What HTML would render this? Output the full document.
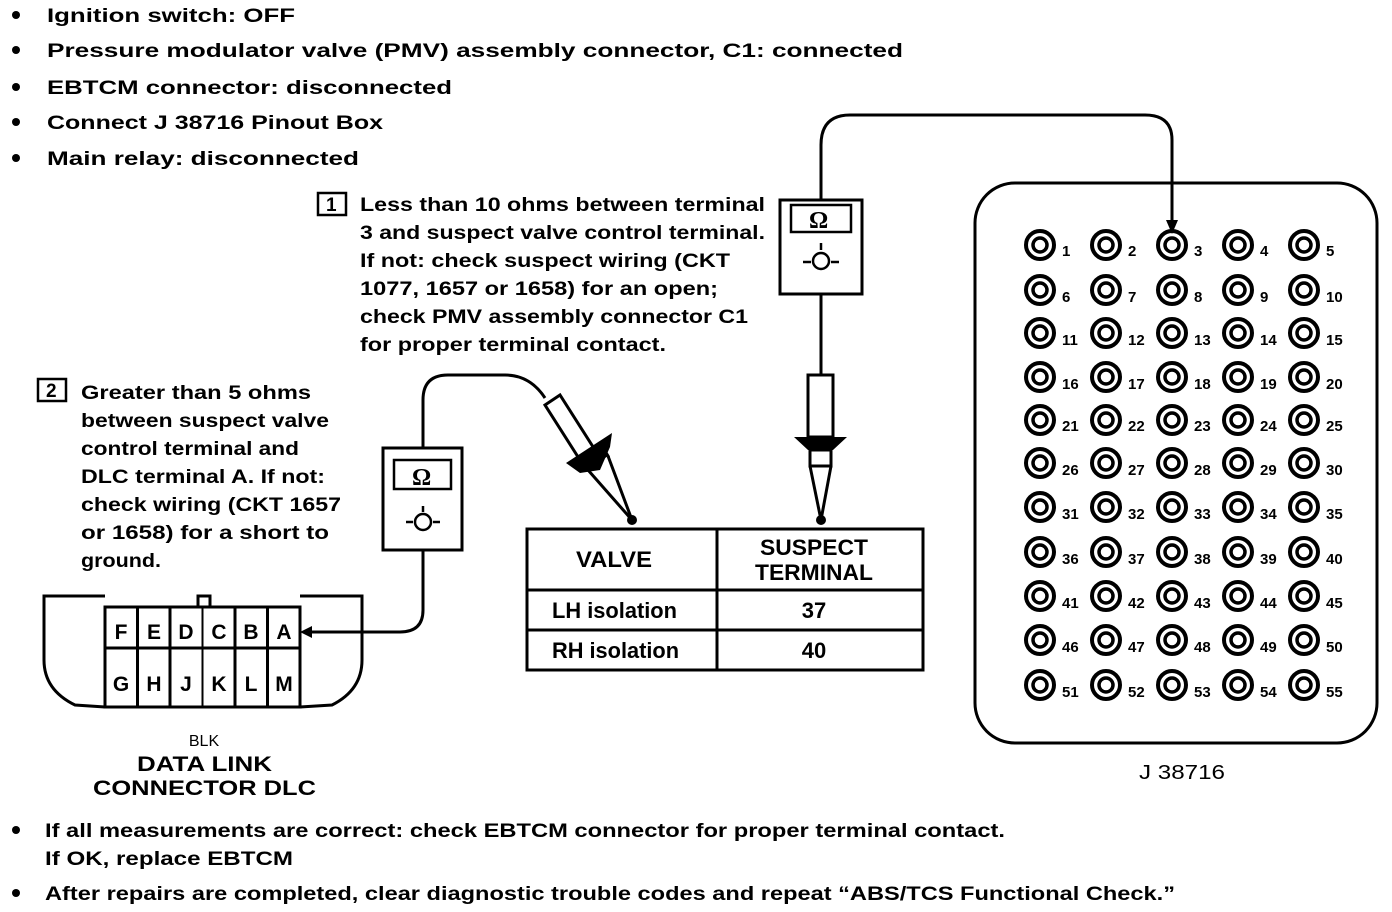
<!DOCTYPE html>
<html><head><meta charset="utf-8"><style>
html,body{margin:0;padding:0;background:#fff;}
svg{display:block;}
text{font-family:"Liberation Sans",sans-serif;font-weight:bold;fill:#000;}
.t{font-size:19px;}
.n{font-size:15px;}
.tb{font-size:22px;font-weight:normal;}
</style></head><body>
<svg width="1392" height="912" viewBox="0 0 1392 912" xmlns="http://www.w3.org/2000/svg">
<defs>
<g id="j"><circle r="14" fill="none" stroke="#000" stroke-width="4"/><circle r="7" fill="none" stroke="#000" stroke-width="3.5"/></g>
</defs>
<!-- top bullets -->
<g class="t">
<circle cx="16" cy="15" r="4"/><text x="47" y="22" textLength="248" lengthAdjust="spacingAndGlyphs">Ignition switch: OFF</text>
<circle cx="16" cy="50" r="4"/><text x="47" y="57" textLength="856" lengthAdjust="spacingAndGlyphs">Pressure modulator valve (PMV) assembly connector, C1: connected</text>
<circle cx="16" cy="87" r="4"/><text x="47" y="94" textLength="405" lengthAdjust="spacingAndGlyphs">EBTCM connector: disconnected</text>
<circle cx="16" cy="122" r="4"/><text x="47" y="129" textLength="336" lengthAdjust="spacingAndGlyphs">Connect J 38716 Pinout Box</text>
<circle cx="16" cy="158" r="4"/><text x="47" y="165" textLength="312" lengthAdjust="spacingAndGlyphs">Main relay: disconnected</text>
</g>
<!-- note 1 -->
<rect x="318" y="193" width="28" height="22" fill="none" stroke="#000" stroke-width="2.5"/>
<text class="t" x="326" y="211">1</text>
<g class="t">
<text x="360" y="211" textLength="405" lengthAdjust="spacingAndGlyphs">Less than 10 ohms between terminal</text>
<text x="360" y="239" textLength="405" lengthAdjust="spacingAndGlyphs">3 and suspect valve control terminal.</text>
<text x="360" y="267" textLength="370" lengthAdjust="spacingAndGlyphs">If not: check suspect wiring (CKT</text>
<text x="360" y="295" textLength="358" lengthAdjust="spacingAndGlyphs">1077, 1657 or 1658) for an open;</text>
<text x="360" y="323" textLength="388" lengthAdjust="spacingAndGlyphs">check PMV assembly connector C1</text>
<text x="360" y="351" textLength="306" lengthAdjust="spacingAndGlyphs">for proper terminal contact.</text>
</g>
<!-- note 2 -->
<rect x="38" y="379" width="28" height="22" fill="none" stroke="#000" stroke-width="2.5"/>
<text class="t" x="46" y="397">2</text>
<g class="t">
<text x="81" y="399" textLength="230" lengthAdjust="spacingAndGlyphs">Greater than 5 ohms</text>
<text x="81" y="427" textLength="248" lengthAdjust="spacingAndGlyphs">between suspect valve</text>
<text x="81" y="455" textLength="218" lengthAdjust="spacingAndGlyphs">control terminal and</text>
<text x="81" y="483" textLength="244" lengthAdjust="spacingAndGlyphs">DLC terminal A. If not:</text>
<text x="81" y="511" textLength="260" lengthAdjust="spacingAndGlyphs">check wiring (CKT 1657</text>
<text x="81" y="539" textLength="248" lengthAdjust="spacingAndGlyphs">or 1658) for a short to</text>
<text x="81" y="567" textLength="80" lengthAdjust="spacingAndGlyphs">ground.</text>
</g>
<!-- meter left -->
<rect x="383" y="448" width="79" height="102" fill="#fff" stroke="#000" stroke-width="3"/>
<rect x="394" y="460" width="57" height="29" fill="none" stroke="#000" stroke-width="2.5"/>
<text x="412" y="485" style="font-size:24px;font-family:'Liberation Serif',serif;">Ω</text>
<g stroke="#000" stroke-width="2.5" fill="none"><circle cx="423" cy="522" r="8"/><line x1="423" y1="506" x2="423" y2="512"/><line x1="406" y1="522" x2="413" y2="522"/><line x1="433" y1="522" x2="440" y2="522"/></g>
<!-- wires left -->
<g stroke="#000" stroke-width="3" fill="none">
<path d="M423 448 V400 Q423 375 448 375 H505 Q530 375 545 398"/>
<path d="M423 550 V610 Q423 632 400 632 H305"/>
</g>
<polygon points="300,632 312,626 312,638" fill="#000"/>
<!-- left probe -->
<g stroke="#000" stroke-width="3" fill="#fff">
<polygon points="545,405 560,395 595,450 580,460"/>
<polygon points="580,460 602,446 608,456 588,470"/>
<path d="M588 470 L632 520 L608 456" />
</g>
<polygon points="566,463 612,433 610,447 600,470 580,473" fill="#000"/>
<circle cx="632" cy="520" r="5" fill="#000"/>
<!-- meter right -->
<rect x="780" y="200" width="82" height="94" fill="#fff" stroke="#000" stroke-width="3"/>
<rect x="791" y="205" width="60" height="27" fill="none" stroke="#000" stroke-width="2.5"/>
<text x="809" y="228" style="font-size:24px;font-family:'Liberation Serif',serif;">Ω</text>
<g stroke="#000" stroke-width="2.5" fill="none"><circle cx="821" cy="261" r="8"/><line x1="821" y1="243" x2="821" y2="250"/><line x1="803" y1="262" x2="811" y2="262"/><line x1="831" y1="262" x2="839" y2="262"/></g>
<g stroke="#000" stroke-width="3" fill="none">
<path d="M821 200 V145 Q821 115 850 115 H1145 Q1172 115 1172 140 V222"/>
<line x1="821" y1="294" x2="821" y2="375"/>
<rect x="808" y="375" width="25" height="62" fill="#fff"/>
<rect x="810" y="450" width="21" height="16" fill="#fff"/>
<path d="M810 466 L821 520 L831 466"/>
</g>
<polygon points="794,437 847,437 833,450 808,450" fill="#000"/>
<polygon points="1166,220 1178,220 1172,234" fill="#000"/>
<circle cx="821" cy="520" r="5" fill="#000"/>
<!-- table -->
<g stroke="#000" stroke-width="3" fill="none">
<rect x="527" y="529" width="396" height="141"/>
<line x1="717" y1="529" x2="717" y2="670"/>
<line x1="527" y1="590" x2="923" y2="590"/>
<line x1="527" y1="630" x2="923" y2="630"/>
</g>
<g class="tb">
<text x="576" y="567" textLength="76" lengthAdjust="spacingAndGlyphs">VALVE</text>
<text x="760" y="555" textLength="108" lengthAdjust="spacingAndGlyphs">SUSPECT</text>
<text x="755" y="580" textLength="118" lengthAdjust="spacingAndGlyphs">TERMINAL</text>
<text x="552" y="618" textLength="125" lengthAdjust="spacingAndGlyphs">LH isolation</text>
<text x="814" y="618" text-anchor="middle">37</text>
<text x="552" y="658" textLength="127" lengthAdjust="spacingAndGlyphs">RH isolation</text>
<text x="814" y="658" text-anchor="middle">40</text>
</g>
<!-- DLC -->
<g stroke="#000" stroke-width="3" fill="none">
<path d="M105 596 H44 V660 Q44 690 75 705 L105 707"/>
<path d="M300 596 H362 V660 Q362 690 332 705 L300 707"/>
<rect x="198" y="596" width="12" height="11"/>
<rect x="105" y="607" width="195" height="100"/>
<line x1="105" y1="648" x2="300" y2="648"/>
<line x1="137.5" y1="607" x2="137.5" y2="707"/>
<line x1="170" y1="607" x2="170" y2="707"/>
<line x1="202.5" y1="607" x2="202.5" y2="707" stroke-width="2"/>
<line x1="235" y1="607" x2="235" y2="707"/>
<line x1="267.5" y1="607" x2="267.5" y2="707"/>
</g>
<g text-anchor="middle" style="font-size:21px;font-weight:normal">
<text x="121" y="639">F</text><text x="154" y="639">E</text><text x="186" y="639">D</text><text x="219" y="639">C</text><text x="251" y="639">B</text><text x="284" y="639">A</text>
<text x="121" y="691">G</text><text x="154" y="691">H</text><text x="186" y="691">J</text><text x="219" y="691">K</text><text x="251" y="691">L</text><text x="284" y="691">M</text>
</g>
<text x="204" y="746" text-anchor="middle" style="font-size:16px;font-weight:normal">BLK</text>
<text x="137" y="771" textLength="135" lengthAdjust="spacingAndGlyphs" style="font-size:21px">DATA LINK</text>
<text x="93" y="795" textLength="223" lengthAdjust="spacingAndGlyphs" style="font-size:21px">CONNECTOR DLC</text>
<!-- pinout box -->
<rect x="975" y="183" width="402" height="560" rx="40" fill="none" stroke="#000" stroke-width="3"/>
<text x="1139" y="779" textLength="86" lengthAdjust="spacingAndGlyphs" style="font-size:20px;font-weight:normal">J 38716</text>
<g>
<use href="#j" x="1040" y="245"/><use href="#j" x="1106" y="245"/><use href="#j" x="1172" y="245"/><use href="#j" x="1238" y="245"/><use href="#j" x="1304" y="245"/>
<use href="#j" x="1040" y="290"/><use href="#j" x="1106" y="290"/><use href="#j" x="1172" y="290"/><use href="#j" x="1238" y="290"/><use href="#j" x="1304" y="290"/>
<use href="#j" x="1040" y="333"/><use href="#j" x="1106" y="333"/><use href="#j" x="1172" y="333"/><use href="#j" x="1238" y="333"/><use href="#j" x="1304" y="333"/>
<use href="#j" x="1040" y="377"/><use href="#j" x="1106" y="377"/><use href="#j" x="1172" y="377"/><use href="#j" x="1238" y="377"/><use href="#j" x="1304" y="377"/>
<use href="#j" x="1040" y="420"/><use href="#j" x="1106" y="420"/><use href="#j" x="1172" y="420"/><use href="#j" x="1238" y="420"/><use href="#j" x="1304" y="420"/>
<use href="#j" x="1040" y="463"/><use href="#j" x="1106" y="463"/><use href="#j" x="1172" y="463"/><use href="#j" x="1238" y="463"/><use href="#j" x="1304" y="463"/>
<use href="#j" x="1040" y="507"/><use href="#j" x="1106" y="507"/><use href="#j" x="1172" y="507"/><use href="#j" x="1238" y="507"/><use href="#j" x="1304" y="507"/>
<use href="#j" x="1040" y="552"/><use href="#j" x="1106" y="552"/><use href="#j" x="1172" y="552"/><use href="#j" x="1238" y="552"/><use href="#j" x="1304" y="552"/>
<use href="#j" x="1040" y="596"/><use href="#j" x="1106" y="596"/><use href="#j" x="1172" y="596"/><use href="#j" x="1238" y="596"/><use href="#j" x="1304" y="596"/>
<use href="#j" x="1040" y="640"/><use href="#j" x="1106" y="640"/><use href="#j" x="1172" y="640"/><use href="#j" x="1238" y="640"/><use href="#j" x="1304" y="640"/>
<use href="#j" x="1040" y="685"/><use href="#j" x="1106" y="685"/><use href="#j" x="1172" y="685"/><use href="#j" x="1238" y="685"/><use href="#j" x="1304" y="685"/>
</g>
<g class="n">
<text x="1062" y="256">1</text><text x="1128" y="256">2</text><text x="1194" y="256">3</text><text x="1260" y="256">4</text><text x="1326" y="256">5</text>
<text x="1062" y="302">6</text><text x="1128" y="302">7</text><text x="1194" y="302">8</text><text x="1260" y="302">9</text><text x="1326" y="302">10</text>
<text x="1062" y="345">11</text><text x="1128" y="345">12</text><text x="1194" y="345">13</text><text x="1260" y="345">14</text><text x="1326" y="345">15</text>
<text x="1062" y="389">16</text><text x="1128" y="389">17</text><text x="1194" y="389">18</text><text x="1260" y="389">19</text><text x="1326" y="389">20</text>
<text x="1062" y="431">21</text><text x="1128" y="431">22</text><text x="1194" y="431">23</text><text x="1260" y="431">24</text><text x="1326" y="431">25</text>
<text x="1062" y="475">26</text><text x="1128" y="475">27</text><text x="1194" y="475">28</text><text x="1260" y="475">29</text><text x="1326" y="475">30</text>
<text x="1062" y="519">31</text><text x="1128" y="519">32</text><text x="1194" y="519">33</text><text x="1260" y="519">34</text><text x="1326" y="519">35</text>
<text x="1062" y="564">36</text><text x="1128" y="564">37</text><text x="1194" y="564">38</text><text x="1260" y="564">39</text><text x="1326" y="564">40</text>
<text x="1062" y="608">41</text><text x="1128" y="608">42</text><text x="1194" y="608">43</text><text x="1260" y="608">44</text><text x="1326" y="608">45</text>
<text x="1062" y="652">46</text><text x="1128" y="652">47</text><text x="1194" y="652">48</text><text x="1260" y="652">49</text><text x="1326" y="652">50</text>
<text x="1062" y="697">51</text><text x="1128" y="697">52</text><text x="1194" y="697">53</text><text x="1260" y="697">54</text><text x="1326" y="697">55</text>
</g>
<!-- bottom bullets -->
<g class="t">
<circle cx="16" cy="830" r="4"/><text x="45" y="837" textLength="960" lengthAdjust="spacingAndGlyphs">If all measurements are correct: check EBTCM connector for proper terminal contact.</text>
<text x="45" y="865" textLength="248" lengthAdjust="spacingAndGlyphs">If OK, replace EBTCM</text>
<circle cx="16" cy="893" r="4"/><text x="45" y="900" textLength="1130" lengthAdjust="spacingAndGlyphs">After repairs are completed, clear diagnostic trouble codes and repeat “ABS/TCS Functional Check.”</text>
</g>
</svg>
</body></html>
